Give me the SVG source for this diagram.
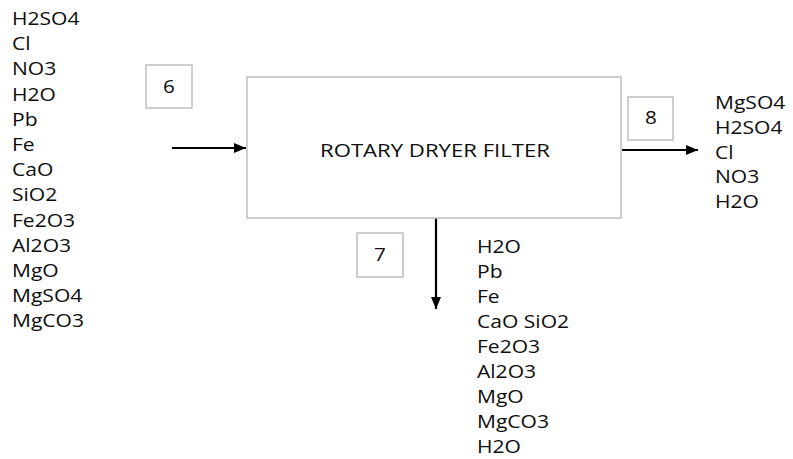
<svg xmlns="http://www.w3.org/2000/svg" width="793" height="459" viewBox="0 0 793 459">
<style>
.t{font-family:"Open Sans","Liberation Sans",sans-serif;font-size:18px;fill:#0d0d0d}
.box{fill:#fff;stroke:#bfbfbf;stroke-width:1.5}
.ln{stroke:#000;stroke-width:2.2;fill:none}
</style>
<defs>
<marker id="ah" markerWidth="12" markerHeight="10" refX="12" refY="5" orient="auto" markerUnits="userSpaceOnUse">
<path d="M0,0 L12,5 L0,10 Z" fill="#000"/>
</marker>
</defs>
<rect width="793" height="459" fill="#fff"/>
<g id="connectors">
<line class="ln" x1="172" y1="148" x2="246" y2="148" marker-end="url(#ah)"/>
<line class="ln" x1="622" y1="150" x2="698" y2="150" marker-end="url(#ah)"/>
<line class="ln" x1="436" y1="218" x2="436" y2="309" marker-end="url(#ah)"/>
</g>
<g id="dryer">
<rect class="box" x="247" y="77" width="374" height="141"/>
<text class="t" x="320" y="156.5" font-size="18.5" textLength="230" lengthAdjust="spacingAndGlyphs">ROTARY DRYER FILTER</text>
</g>
<g id="stream6">
<rect class="box" x="146" y="65" width="46" height="43"/>
<text class="t" transform="translate(169,93) scale(1.15,1)" text-anchor="middle">6</text>
</g>
<g id="stream8">
<rect class="box" x="628" y="97" width="45" height="43"/>
<text class="t" transform="translate(651,124) scale(1.15,1)" text-anchor="middle">8</text>
</g>
<g id="stream7">
<rect class="box" x="357" y="233" width="46" height="44"/>
<text class="t" transform="translate(380,261) scale(1.15,1)" text-anchor="middle">7</text>
</g>
<g id="feed-list" transform="translate(12,0) scale(1.17,1)">
<text class="t" x="0" y="25">H2SO4</text>
<text class="t" x="0" y="50.2">Cl</text>
<text class="t" x="0" y="75.4">NO3</text>
<text class="t" x="0" y="100.6">H2O</text>
<text class="t" x="0" y="125.8">Pb</text>
<text class="t" x="0" y="151">Fe</text>
<text class="t" x="0" y="176.2">CaO</text>
<text class="t" x="0" y="201.4">SiO2</text>
<text class="t" x="0" y="226.6">Fe2O3</text>
<text class="t" x="0" y="251.8">Al2O3</text>
<text class="t" x="0" y="277">MgO</text>
<text class="t" x="0" y="302.2">MgSO4</text>
<text class="t" x="0" y="327.4">MgCO3</text>
</g>
<g id="liquor-list" transform="translate(715,0) scale(1.17,1)">
<text class="t" x="0" y="109">MgSO4</text>
<text class="t" x="0" y="133.8">H2SO4</text>
<text class="t" x="0" y="158.6">Cl</text>
<text class="t" x="0" y="183.4">NO3</text>
<text class="t" x="0" y="208.2">H2O</text>
</g>
<g id="solids-list" transform="translate(477,0) scale(1.17,1)">
<text class="t" x="0" y="252.7">H2O</text>
<text class="t" x="0" y="277.7">Pb</text>
<text class="t" x="0" y="302.7">Fe</text>
<text class="t" x="0" y="327.7">CaO SiO2</text>
<text class="t" x="0" y="352.7">Fe2O3</text>
<text class="t" x="0" y="377.7">Al2O3</text>
<text class="t" x="0" y="402.7">MgO</text>
<text class="t" x="0" y="427.7">MgCO3</text>
<text class="t" x="0" y="452.7">H2O</text>
</g>
</svg>
